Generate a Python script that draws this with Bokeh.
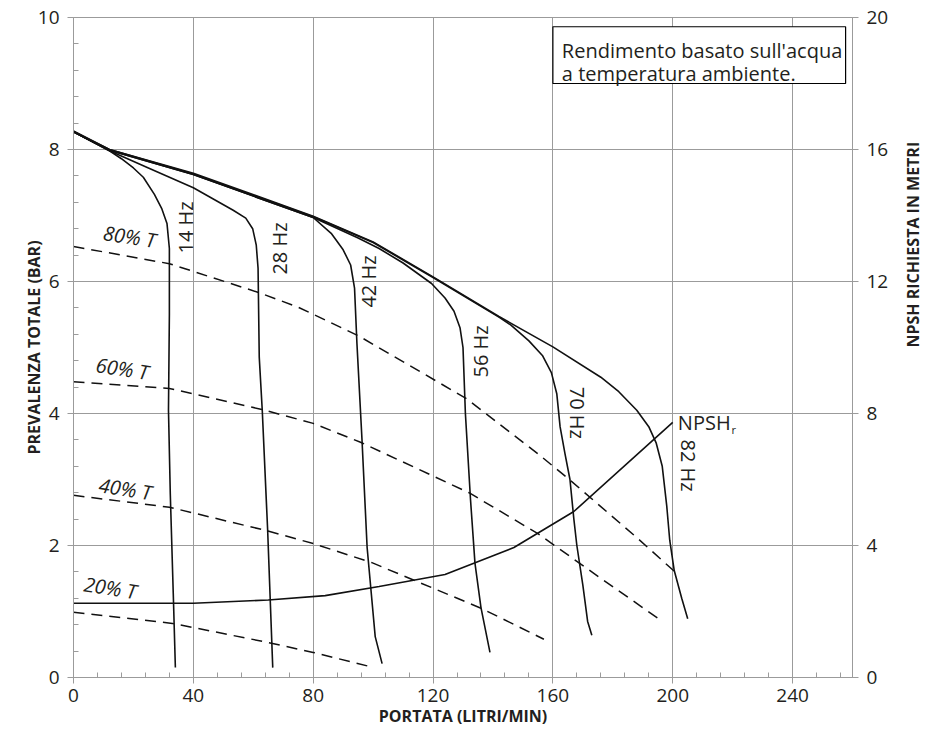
import math
from bokeh.plotting import figure
from bokeh.models import Range1d, LinearAxis, SingleIntervalTicker, FixedTicker, BoxAnnotation, Label
from bokeh.core.properties import value
from bokeh.embed import file_html
from bokeh.resources import INLINE

FONT = "Open Sans"
INK = "#231f20"
GRID = "#9b9b9b"
LINE = "#111111"

# ---------------- data ----------------
# pump curves (flow L/min, head bar)
flow_14 = [0, 12, 16, 20, 23.3, 27, 29.5, 31.2, 32, 32, 31.7, 32.3, 33.3, 34.0]
head_14 = [8.27, 7.98, 7.86, 7.72, 7.58, 7.32, 7.1, 6.88, 6.5, 5.5, 4.05, 2.79, 1.27, 0.15]

flow_28 = [0, 12, 25, 40, 53.3, 57.5, 59.8, 61, 61.6, 62, 63, 64.8, 66.5]
head_28 = [8.27, 7.98, 7.72, 7.42, 7.08, 6.96, 6.8, 6.55, 6.2, 4.85, 4.05, 2.23, 0.15]

flow_42 = [0, 12, 40, 80, 86, 90, 92.5, 93.8, 94.6, 96.3, 98, 100.7, 103]
head_42 = [8.27, 7.99, 7.62, 6.97, 6.73, 6.48, 6.25, 5.9, 5.06, 3.59, 1.97, 0.62, 0.21]

flow_56 = [0, 12, 40, 80, 95, 102, 110, 119.5, 124, 127, 129, 130, 130.8, 132.5, 134, 136, 139]
head_56 = [8.27, 7.99, 7.62, 6.97, 6.66, 6.5, 6.28, 5.97, 5.75, 5.55, 5.3, 5.0, 4.0, 2.7, 1.73, 1.06, 0.38]

flow_70 = [0, 12, 40, 80, 100, 120, 142, 146, 152, 156.5, 159.5, 161.3, 162.4, 164, 165.7, 167, 168, 170, 171.6, 173]
head_70 = [8.27, 8.0, 7.63, 6.98, 6.59, 6.06, 5.46, 5.34, 5.1, 4.88, 4.62, 4.3, 3.8, 3.4, 3.0, 2.4, 2.0, 1.4, 0.85, 0.64]

flow_82 = [0, 12, 40, 80, 100, 120, 142, 160, 176, 182, 188, 192, 194.5, 196.5, 198, 199, 200.5, 203, 205]
head_82 = [8.28, 8.0, 7.64, 6.99, 6.6, 6.07, 5.47, 5.01, 4.55, 4.33, 4.05, 3.8, 3.55, 3.2, 2.6, 2.08, 1.62, 1.2, 0.89]

speed_labels = ["14 Hz", "28 Hz", "42 Hz", "56 Hz", "70 Hz", "82 Hz"]

# torque lines (dashed)
flow_t80 = [0, 32, 62, 75, 95, 131, 155, 166, 188, 201]
head_t80 = [6.53, 6.27, 5.83, 5.61, 5.18, 4.23, 3.39, 2.98, 2.12, 1.59]
flow_t60 = [0, 32, 63, 80, 96, 132, 155, 177, 195]
head_t60 = [4.48, 4.38, 4.06, 3.85, 3.56, 2.8, 2.18, 1.47, 0.9]
flow_t40 = [0, 32, 64, 80, 99.6, 136, 157]
head_t40 = [2.76, 2.58, 2.23, 2.03, 1.74, 1.05, 0.58]
flow_t20 = [0, 33, 65, 80, 98.6]
head_t20 = [0.99, 0.82, 0.53, 0.38, 0.17]
torque_labels = ["80% T", "60% T", "40% T", "20% T"]

# NPSH required (metres, right axis)
flow_npsh = [0, 40, 65, 84, 102, 124, 147, 167, 200]
npsh_m = [2.25, 2.25, 2.35, 2.48, 2.76, 3.12, 3.94, 5.03, 7.73]

x_ticks_step = 40
y_left_step = 2
y_right_step = 4

note_lines = ["Rendimento basato sull'acqua", "a temperatura ambiente."]
right_title = "NPSH RICHIESTA IN METRI"

# ---------------- figure ----------------
p = figure(width=937, height=748, output_backend="svg", toolbar_location=None,
           x_range=Range1d(0, 260), y_range=Range1d(0, 10),
           min_border_left=73, min_border_right=84, min_border_top=17, min_border_bottom=71)
p.outline_line_color = GRID
p.outline_line_width = 1
p.background_fill_color = "white"
p.border_fill_color = "white"

p.extra_y_ranges = {"npsh": Range1d(0, 20)}

def style_axis(ax):
    ax.axis_line_color = GRID
    ax.major_tick_line_color = GRID
    ax.minor_tick_line_color = GRID
    ax.major_tick_out = 6
    ax.major_tick_in = 0
    ax.minor_tick_in = 5
    ax.minor_tick_out = 0
    ax.major_label_text_font = FONT
    ax.major_label_text_font_size = "19px"
    ax.major_label_text_color = INK
    ax.axis_label_text_font = FONT
    ax.axis_label_text_font_size = "16px"
    ax.axis_label_text_font_style = "bold"
    ax.axis_label_text_color = INK

xa = p.xaxis[0]
xa.ticker = SingleIntervalTicker(interval=x_ticks_step, num_minor_ticks=5)
xa.axis_label = "PORTATA (LITRI/MIN)"
style_axis(xa)
xa.major_label_standoff = 5
xa.axis_label_standoff = 0

ya = p.yaxis[0]
ya.ticker = SingleIntervalTicker(interval=y_left_step, num_minor_ticks=5)
ya.axis_label = "PREVALENZA TOTALE (BAR)"
style_axis(ya)
ya.major_label_standoff = 8
ya.axis_label_standoff = -10

ra = LinearAxis(y_range_name="npsh", ticker=SingleIntervalTicker(interval=y_right_step, num_minor_ticks=0))
style_axis(ra)
ra.minor_tick_line_color = None
ra.major_label_standoff = 8
p.add_layout(ra, "right")

# right axis title (reads bottom-to-top like the reference): a label-only axis
rt = LinearAxis(y_range_name="npsh", ticker=FixedTicker(ticks=[10]),
                major_label_overrides={10: right_title}, major_label_orientation=math.pi / 2)
rt.axis_line_color = None
rt.major_tick_line_color = None
rt.minor_tick_line_color = None
rt.major_tick_out = 0
rt.major_tick_in = 0
rt.major_label_standoff = 21
rt.major_label_text_font = FONT
rt.major_label_text_font_size = "16px"
rt.major_label_text_font_style = "bold"
rt.major_label_text_color = INK
p.add_layout(rt, "right")

p.xgrid.grid_line_color = GRID
p.ygrid.grid_line_color = GRID
p.xgrid.grid_line_width = 1
p.ygrid.grid_line_width = 1

# dashed torque lines
for fx, hy in [(flow_t80, head_t80), (flow_t60, head_t60), (flow_t40, head_t40), (flow_t20, head_t20)]:
    p.line(fx, hy, line_color=LINE, line_width=1.5, line_dash="11 7")

# pump curves
for fx, hy in [(flow_14, head_14), (flow_28, head_28), (flow_42, head_42),
               (flow_56, head_56), (flow_70, head_70), (flow_82, head_82)]:
    p.line(fx, hy, line_color=LINE, line_width=1.6)

# NPSH
p.line(flow_npsh, npsh_m, y_range_name="npsh", line_color=LINE, line_width=1.6)

# speed labels
sp_x = [37.5, 68.8, 98.3, 136.0, 168.3, 205.3]
sp_y = [6.82, 6.5, 6.0, 4.94, 4.01, 3.21]
sp_a = [math.pi / 2] * 4 + [-math.pi / 2] * 2
p.text(x=sp_x, y=sp_y, text=speed_labels, angle=sp_a, text_font=value(FONT),
       text_font_size="20px", text_color=INK, text_align="center", text_baseline="middle")

# torque labels
t_x = [18.7, 16.3, 17.3, 12.3]
t_y = [6.68, 4.68, 2.86, 1.36]
p.text(x=t_x, y=t_y, text=torque_labels, angle=-0.15, text_font=value(FONT),
       text_font_size="20px", text_font_style="italic", text_color=INK,
       text_align="center", text_baseline="middle")

# NPSH label
p.text(x=[201.7], y=[3.86], text=["NPSH"], text_font=value(FONT), text_font_size="20px",
       text_color=INK, text_align="left", text_baseline="alphabetic")
p.text(x=[219.6], y=[3.76], text=["r"], text_font=value(FONT), text_font_size="11px",
       text_color=INK, text_align="left", text_baseline="alphabetic")

# note box
box = BoxAnnotation(left=160, right=257.7, top=9.86, bottom=9.0,
                    fill_color="white", fill_alpha=1.0, line_color="#000000",
                    line_alpha=1.0, line_width=1.2)
p.add_layout(box)
for i, t in enumerate(note_lines):
    p.add_layout(Label(x=163, y=9.5 - i * 0.35, text=t, text_font=FONT, text_font_size="20px",
                       text_color=INK, text_align="left", text_baseline="alphabetic"))

open("out.html", "w").write(file_html(p, INLINE))
